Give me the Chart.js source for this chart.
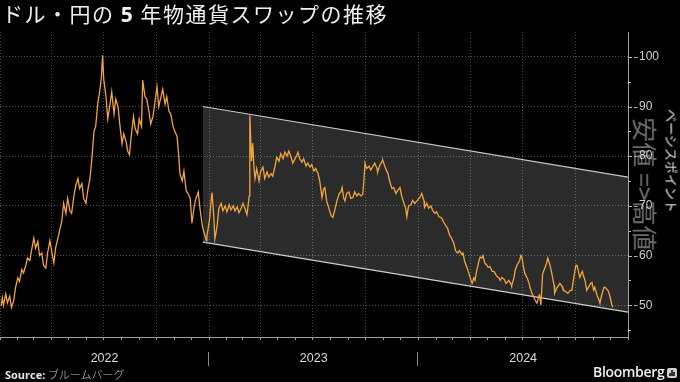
<!DOCTYPE html>
<html><head><meta charset="utf-8">
<script src="https://cdn.jsdelivr.net/npm/chart.js@4/dist/chart.umd.min.js"></script>
<style>
html,body{margin:0;padding:0;background:#000;}
#wrap{position:relative;width:680px;height:382px;overflow:hidden;background:#000;font-family:"Noto Sans CJK JP","Noto Sans",sans-serif;}
#c{position:absolute;left:0;top:0;z-index:2;}
.title{position:absolute;left:2px;top:1px;font-size:21px;line-height:25px;color:#f0f0f0;letter-spacing:1.5px;white-space:nowrap;z-index:3;}
.title b{font-family:"Open Sans","Noto Sans",sans-serif;font-weight:700;}
.rot{position:absolute;transform:translate(-50%,-50%) rotate(90deg);white-space:nowrap;line-height:1;}
.note{left:645px;top:184px;font-size:25px;color:#6a6a6a;z-index:1;}
.unit{left:672px;top:161px;font-size:13px;color:#e0e0e0;z-index:3;}
.src{position:absolute;left:5px;top:366px;font-size:11px;color:#e6e6e6;white-space:nowrap;z-index:3;}
.src b{font-family:"Open Sans","Noto Sans",sans-serif;font-weight:700;}
.src span{color:#c8c8c8;font-weight:300;}
.bb{position:absolute;left:593px;top:362px;font-family:"Open Sans","Noto Sans",sans-serif;font-size:14px;font-weight:600;color:#f0f0f0;letter-spacing:-0.3px;z-index:3;}
.ico{position:absolute;left:667px;top:368px;width:10px;height:10px;background:#cfcfcf;border-radius:2px;z-index:3;}
.ico i{position:absolute;bottom:2px;width:2px;background:#333;}
</style></head>
<body>
<div id="wrap">
  <div class="title">ドル・円の <b>5</b> 年物通貨スワップの推移</div>
  <div class="rot note">安値 =&gt;高値</div>
  <div class="rot unit">ベーシスポイント</div>
  <canvas id="c" width="680" height="382"></canvas>
  <div class="src"><b>Source:</b> <span>ブルームバーグ</span></div>
  <div class="bb">Bloomberg</div>
  <div class="ico"><i style="left:2px;height:3px"></i><i style="left:4px;height:6px"></i><i style="left:6px;height:4px"></i></div>
</div>
<script>
// ---- data ----
const dates = [
'2022-01-03','2022-01-05','2022-01-07','2022-01-11','2022-01-14','2022-01-18','2022-01-21','2022-01-25','2022-01-28','2022-02-01',
'2022-02-04','2022-02-08','2022-02-11','2022-02-15','2022-02-18','2022-02-22','2022-02-25','2022-03-01','2022-03-04','2022-03-08',
'2022-03-11','2022-03-15','2022-03-18','2022-03-22','2022-03-25','2022-03-29','2022-04-01','2022-04-05','2022-04-08','2022-04-12',
'2022-04-15','2022-04-19','2022-04-22','2022-04-26','2022-04-29','2022-05-03','2022-05-06','2022-05-10','2022-05-13','2022-05-17',
'2022-05-20','2022-05-24','2022-05-27','2022-05-31','2022-06-03','2022-06-07','2022-06-10','2022-06-14','2022-06-17','2022-06-21',
'2022-06-24','2022-06-27','2022-06-29','2022-07-01','2022-07-05','2022-07-08','2022-07-12','2022-07-15','2022-07-19','2022-07-22',
'2022-07-26','2022-07-29','2022-08-02','2022-08-05','2022-08-09','2022-08-12','2022-08-15','2022-08-18','2022-08-22','2022-08-25',
'2022-08-29','2022-09-01','2022-09-05','2022-09-07','2022-09-11','2022-09-14','2022-09-18','2022-09-21','2022-09-25','2022-09-28',
'2022-10-02','2022-10-05','2022-10-09','2022-10-12','2022-10-16','2022-10-19','2022-10-23','2022-10-26','2022-10-30','2022-11-02',
'2022-11-06','2022-11-09','2022-11-11','2022-11-15','2022-11-18','2022-11-22','2022-11-25','2022-11-29','2022-12-02','2022-12-06',
'2022-12-09','2022-12-13','2022-12-16','2022-12-20','2022-12-23','2022-12-27','2022-12-28',
'2023-01-02','2023-01-04','2023-01-06','2023-01-09','2023-01-11','2023-01-15','2023-01-18','2023-01-22','2023-01-25','2023-01-29',
'2023-02-01','2023-02-05','2023-02-08','2023-02-12','2023-02-15','2023-02-19','2023-02-22','2023-02-26','2023-03-01','2023-03-05',
'2023-03-08','2023-03-12','2023-03-13','2023-03-15','2023-03-16','2023-03-18','2023-03-20','2023-03-22','2023-03-25','2023-03-29',
'2023-04-01','2023-04-05','2023-04-08','2023-04-12','2023-04-15','2023-04-19','2023-04-22','2023-04-26','2023-04-29','2023-05-03',
'2023-05-06','2023-05-10','2023-05-13','2023-05-17','2023-05-20','2023-05-24','2023-05-27','2023-05-31','2023-06-03','2023-06-05',
'2023-06-08','2023-06-12','2023-06-15','2023-06-19','2023-06-22','2023-06-26','2023-06-29','2023-07-03','2023-07-06','2023-07-10',
'2023-07-13','2023-07-17','2023-07-20','2023-07-22','2023-07-25','2023-07-29','2023-08-02','2023-08-05','2023-08-09','2023-08-12',
'2023-08-16','2023-08-19','2023-08-21','2023-08-24','2023-08-26','2023-08-29','2023-09-02','2023-09-05','2023-09-09','2023-09-12',
'2023-09-16','2023-09-19','2023-09-23','2023-09-26','2023-09-28','2023-09-30','2023-10-03','2023-10-07','2023-10-10','2023-10-14',
'2023-10-17','2023-10-21','2023-10-22','2023-10-26','2023-10-30','2023-10-31','2023-11-04','2023-11-07','2023-11-09','2023-11-12',
'2023-11-16','2023-11-19','2023-11-23','2023-11-26','2023-11-30','2023-12-03','2023-12-07','2023-12-10','2023-12-12','2023-12-15',
'2023-12-19','2023-12-22','2023-12-26',
'2024-01-02','2024-01-04','2024-01-07','2024-01-11','2024-01-12','2024-01-16','2024-01-19','2024-01-23','2024-01-26','2024-01-30',
'2024-02-02','2024-02-06','2024-02-09','2024-02-11','2024-02-14','2024-02-18','2024-02-21','2024-02-25','2024-02-28','2024-03-03',
'2024-03-06','2024-03-10','2024-03-13','2024-03-17','2024-03-19','2024-03-22','2024-03-26','2024-03-29','2024-04-02','2024-04-04',
'2024-04-07','2024-04-09','2024-04-12','2024-04-16','2024-04-18','2024-04-21','2024-04-23','2024-04-26','2024-04-30','2024-05-02',
'2024-05-05','2024-05-09','2024-05-12','2024-05-14','2024-05-17','2024-05-21','2024-05-23','2024-05-26','2024-05-30','2024-06-02',
'2024-06-04','2024-06-07','2024-06-11','2024-06-12','2024-06-16','2024-06-18','2024-06-21','2024-06-23','2024-06-26','2024-06-28',
'2024-06-30','2024-07-02','2024-07-05','2024-07-09','2024-07-12','2024-07-14','2024-07-17','2024-07-21','2024-07-23','2024-07-26',
'2024-07-30','2024-07-31','2024-08-02','2024-08-05','2024-08-09','2024-08-12','2024-08-14','2024-08-18','2024-08-21','2024-08-25',
'2024-08-26','2024-08-30','2024-09-02','2024-09-04','2024-09-08','2024-09-09','2024-09-13','2024-09-16','2024-09-18','2024-09-22',
'2024-09-25','2024-09-29','2024-10-02','2024-10-04','2024-10-07','2024-10-09','2024-10-13','2024-10-14','2024-10-18','2024-10-21',
'2024-10-25','2024-10-28','2024-10-30','2024-11-02','2024-11-04','2024-11-08','2024-11-11','2024-11-13','2024-11-16','2024-11-20',
'2024-11-22','2024-11-25','2024-11-27','2024-11-30','2024-12-02','2024-12-04','2024-12-06'
];
const swapBp = [
49.8,51.5,50.0,52.3,50.5,51.8,49.5,51.0,53.5,55.5,
54.8,57.2,56.5,58.0,59.5,59.0,61.0,63.5,61.5,62.8,
60.0,60.5,58.0,57.5,60.5,63.0,61.0,58.5,61.5,63.5,
65.0,67.0,70.5,68.5,71.5,69.0,68.5,72.0,74.0,75.5,
73.5,74.5,71.5,70.5,73.0,75.5,79.0,85.0,86.0,91.0,
93.0,96.0,100.3,95.5,92.0,87.5,90.5,93.0,88.5,91.5,
90.0,86.5,82.5,84.5,83.0,81.0,80.3,84.0,88.0,85.5,
84.5,87.5,86.0,95.3,92.0,91.5,89.0,86.5,88.0,90.5,
94.0,90.0,92.0,93.5,90.5,92.0,89.0,88.5,86.0,85.0,
84.0,80.0,76.5,75.0,77.0,73.0,72.5,71.5,66.5,70.0,
71.5,72.8,69.5,66.0,64.7,63.0,63.8,
67.5,70.5,72.7,68.0,63.3,66.0,69.5,70.5,69.0,70.0,
68.8,70.2,69.2,70.0,69.0,69.8,68.6,69.5,70.5,69.3,
68.2,72.0,88.2,82.0,79.0,82.6,78.0,75.5,77.5,75.0,
77.0,77.8,75.5,76.8,75.8,76.5,76.0,78.0,79.8,79.0,
80.5,79.5,80.8,80.0,81.0,79.8,78.6,79.5,80.2,80.8,
79.5,78.8,79.5,78.0,78.6,77.8,78.3,77.0,77.5,76.5,
75.0,71.7,73.5,73.7,71.0,69.5,68.0,67.7,69.5,71.0,
72.5,72.8,73.7,71.5,71.0,72.5,72.8,71.5,71.7,72.8,
72.0,72.5,72.0,72.3,75.0,78.6,77.5,78.0,77.2,78.0,
78.6,77.5,76.8,78.2,79.0,79.2,77.8,77.0,76.6,75.0,
73.5,73.7,72.5,73.1,73.7,72.0,70.5,69.5,67.8,70.0,
70.2,71.1,70.5,
71.5,71.7,72.5,71.0,69.7,70.5,69.5,70.0,69.1,68.5,
68.8,67.8,67.7,67.5,66.8,66.0,65.5,64.0,63.5,62.5,
61.0,60.5,61.0,60.2,60.5,58.8,57.6,56.5,55.0,54.4,
55.5,55.0,57.0,59.0,59.7,59.5,60.0,58.5,58.0,57.6,
57.8,56.8,56.8,56.4,55.8,55.5,55.0,55.6,55.2,54.4,
54.6,55.0,54.2,54.0,55.5,57.0,58.0,58.4,59.0,60.0,
59.7,58.0,56.4,55.5,54.5,53.6,52.5,51.5,51.0,50.4,
52.0,51.6,50.0,56.4,57.5,58.5,59.5,58.0,56.4,54.0,
52.4,53.5,54.0,54.4,53.8,53.4,52.8,52.6,52.4,53.0,
53.0,56.0,58.0,58.0,56.5,55.6,56.8,56.4,55.0,53.0,
53.8,54.4,54.6,53.0,53.6,52.0,51.2,50.4,52.0,53.6,
53.6,53.2,53.0,52.0,51.0,50.0,49.6
];
// trend channel drawn on the chart (start / end of the band)
const channelDates = ['2022-12-21','2025-01-01'];
const channelUpper = [90.0, 75.8];
const channelLower = [62.7, 48.6];
// axis
const xRange = ['2022-01-01','2025-01-01'];
const yRange = [43.6, 105];
const yTicks = [45,50,55,60,65,70,75,80,85,90,95,100];
const yearLabels = ['2022','2023','2024'];

// ---- chart ----
const t = s => Date.UTC(+s.slice(0,4), +s.slice(5,7)-1, +s.slice(8,10));
const toXY = (ds, vs) => ds.map((d,i)=>({x:t(d), y:vs[i]}));

const monthTicks = [];
for (let y=2022; y<=2025; y++) for (let m=0; m<12; m++) {
  const v = Date.UTC(y,m,1);
  if (v>=t(xRange[0]) && v<=t(xRange[1])) monthTicks.push({value:v, m});
}
const TRANSP = 'rgba(0,0,0,0)';
const GRID = '#4b4b4b';

const deco = {
  id:'deco',
  afterDraw(chart){
    const {ctx, chartArea:a, scales:{x, y}} = chart;
    ctx.save();
    ctx.strokeStyle = '#b8b8b8'; ctx.lineWidth = 1;
    yTicks.forEach(v=>{
      const py = Math.round(y.getPixelForValue(v)) + 0.5;
      ctx.beginPath();
      if (v % 10 === 0) {
        ctx.moveTo(a.right, py); ctx.lineTo(a.right+4, py);
        ctx.moveTo(a.right+6, py); ctx.lineTo(a.right+9.5, py);
      } else {
        ctx.moveTo(a.right, py); ctx.lineTo(a.right+3, py);
      }
      ctx.stroke();
    });
    // year separators and labels
    ctx.strokeStyle = '#8a8a8a';
    ctx.fillStyle = '#dcdcdc';
    ctx.font = '12.5px "Liberation Sans", Arial, sans-serif';
    ctx.textAlign = 'center'; ctx.textBaseline = 'middle';
    yearLabels.forEach((yr, i)=>{
      const s = Math.max(a.left, x.getPixelForValue(Date.UTC(+yr,0,1)));
      const e = Math.min(a.right, x.getPixelForValue(Date.UTC(+yr+1,0,1)));
      ctx.fillText(yr, (s+e)/2, 359);
      if (i > 0) {
        const px = Math.round(s) - 0.5;
        ctx.beginPath(); ctx.moveTo(px, 352); ctx.lineTo(px, 366); ctx.stroke();
      }
    });
    ctx.restore();
  }
};

new Chart(document.getElementById('c'), {
  type:'line',
  data:{
    datasets:[
      {label:'swap', data:toXY(dates, swapBp), borderColor:'#f2a43c', borderWidth:1.3,
       pointRadius:0, tension:0, fill:false, order:0},
      {label:'upper', data:toXY(channelDates, channelUpper), borderColor:'#c9c9c9', borderWidth:1.2,
       pointRadius:0, fill:'+1', backgroundColor:'rgba(255,255,255,0.17)', order:2},
      {label:'lower', data:toXY(channelDates, channelLower), borderColor:'#c9c9c9', borderWidth:1.2,
       pointRadius:0, fill:false, order:3}
    ]
  },
  options:{
    responsive:false, animation:false, devicePixelRatio:1,
    layout:{padding:{top:32, left:0, right:0, bottom:0}},
    plugins:{legend:{display:false}, tooltip:{enabled:false}},
    scales:{
      x:{type:'linear', min:t(xRange[0]), max:t(xRange[1]),
         afterBuildTicks:s=>{ s.ticks = monthTicks.map(o=>({value:o.value})); },
         afterFit:s=>{ s.height = 45; },
         grid:{color:c=>{ if(!c.tick) return TRANSP; const m = new Date(c.tick.value).getUTCMonth(); return m%3===0 ? GRID : TRANSP; },
               tickColor:'#9a9a9a', tickLength:3, drawTicks:true, lineWidth:1},
         border:{display:true, color:'#a0a0a0', width:1, dash:[1,2]},
         ticks:{display:false, autoSkip:false}},
      y:{type:'linear', position:'right', min:yRange[0], max:yRange[1],
         afterBuildTicks:s=>{ s.ticks = yTicks.map(v=>({value:v})); },
         afterFit:s=>{ s.width = 52; },
         grid:{color:c=>{ if(!c.tick) return TRANSP; return c.tick.value%10===0 ? GRID : TRANSP; }, drawTicks:false, lineWidth:1},
         border:{display:true, color:'#a0a0a0', width:1, dash:[1,2]},
         ticks:{autoSkip:false, padding:11, color:'#d0d0d0', font:{size:12, family:'"Liberation Sans", Arial, sans-serif'},
                callback:v=> v%10===0 ? String(v) : ''}}
    }
  },
  plugins:[deco]
});
</script>
</body></html>
